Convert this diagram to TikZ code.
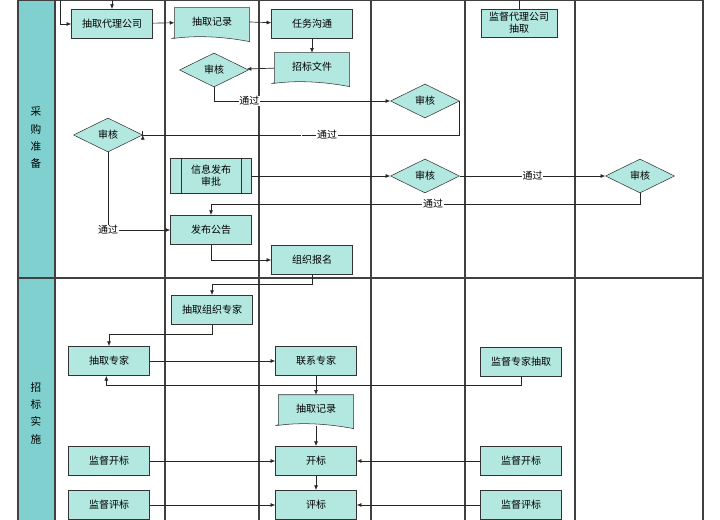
\documentclass[tikz,border=0pt]{standalone}
\usepackage{fontspec}
\setmainfont{Noto Sans CJK SC}
\usetikzlibrary{shapes.geometric,arrows.meta}
\definecolor{boxfill}{HTML}{B3E8E0}
\definecolor{lanefill}{HTML}{80D0D0}
\tikzset{
 box/.style={draw=black!80, fill=boxfill, minimum width=60.75pt, minimum height=22pt, inner sep=1pt, align=center, font=\fontsize{7.5}{9}\selectfont},
 doc/.style={minimum width=56pt, minimum height=21pt, inner sep=1pt, font=\fontsize{7.5}{9}\selectfont},
 dec/.style={diamond, draw=black!80, fill=boxfill, aspect=2, minimum width=51.75pt, minimum height=25.5pt, inner sep=0pt, font=\fontsize{7.5}{9}\selectfont},
 flow/.style={draw=black!85, line width=0.5pt, -{Latex[length=3.5pt,width=3pt]}},
 link/.style={draw=black!85, line width=0.5pt},
 lab/.style={fill=white, inner sep=0.5pt, font=\fontsize{7.5}{9}\selectfont},
 lane/.style={draw=black!75, line width=0.8pt}
}
\begin{document}
\begin{tikzpicture}[x=0.75pt,y=-0.75pt]
\useasboundingbox (0,0) rectangle (720,520);
% lanes
\fill[lanefill] (18,0) rectangle (55,520);
\foreach \x in {18,55,165,259,371,465,575,703}
 \draw[lane] (\x,0) -- (\x,520);
\draw[lane] (18,0) -- (703,0);
\draw[lane] (18,278) -- (703,278);
\node[align=center, font=\fontsize{8}{13}\selectfont] (stage1) at (36,138) {采\\购\\准\\备};
\node[align=center, font=\fontsize{8}{13}\selectfont] (stage2) at (36,413) {招\\标\\实\\施};

% nodes
\node[box] (agent) at (112,24) {抽取代理公司};
\node[doc] (rec1) at (212,22) {抽取记录};
\node[box] (talk) at (312,24) {任务沟通};
\node[doc] (file) at (312,67) {招标文件};
\node[dec] (chk1) at (214,70) {审核};
\node[dec] (chk2) at (425,101) {审核};
\node[dec] (chk3) at (108,135) {审核};
\node[box, minimum height=26pt, text width=45pt] (pub) at (211,176) {信息发布\\审批};
\node[dec] (chk4) at (425,176) {审核};
\node[dec] (chk5) at (640,176) {审核};
\node[box] (notice) at (211,230) {发布公告};
\node[box] (sign) at (312,260) {组织报名};
\node[box, minimum width=57pt, minimum height=21pt, inner sep=0pt] (super) at (519,23) {监督代理公司\\抽取};
\node[box] (orgexp) at (212,310) {抽取组织专家};
\node[box] (drawexp) at (109,361) {抽取专家};
\node[box] (contact) at (316,361) {联系专家};
\node[box] (supexp) at (521,362) {监督专家抽取};
\node[doc] (rec2) at (316,409) {抽取记录};
\node[box] (supopen1) at (109,461) {监督开标};
\node[box] (open) at (316,461) {开标};
\node[box] (supopen2) at (521,461) {监督开标};
\node[box] (supeval1) at (109,505) {监督评标};
\node[box] (eval) at (316,505) {评标};
\node[box] (supeval2) at (521,505) {监督评标};

% document shapes
\foreach \n in {rec1,file,rec2}{
 \begin{pgfonlayer}{main}
 \end{pgfonlayer}
 \draw[draw=black!80, fill=boxfill] (\n.north west) -- (\n.north east) -- ([yshift=-4pt]\n.south east)
  .. controls ([xshift=-14pt,yshift=4pt]\n.south) and ([xshift=-8pt,yshift=-4pt]\n.south west) .. ([yshift=-1pt]\n.south west) -- cycle;
 \node[doc] at (\n) {\ifx\n\empty\fi};
}
\node[doc] at (rec1) {抽取记录};
\node[doc] at (file) {招标文件};
\node[doc] at (rec2) {抽取记录};
\draw[black!80] ([xshift=8pt]pub.north west) -- ([xshift=8pt]pub.south west)
 ([xshift=-8pt]pub.north east) -- ([xshift=-8pt]pub.south east);

% connectors
\coordinate (top1) at (112,0);
\coordinate (top2) at (60,0);
\coordinate (top3) at (519,0);
\draw[flow] (top1) -- (agent);
\draw[flow] (top2) |- (agent);
\draw[link] (super) -- (top3);
\draw[flow] (agent) -- (rec1);
\draw[flow] (rec1.east) -- (talk);
\draw[flow] (talk) -- (file);
\draw[flow] (file) -- (chk1);
\draw[flow] (chk1.south) |- node[lab, pos=0.6] {通过} (chk2.west);
\draw[flow] (chk2.east) -- ++(0,34) -| node[lab, pos=0.25] {} (chk3.east) ;
\node[lab] (pass2) at (327,135) {通过};
\draw[flow] (chk3.south) |- node[lab, pos=0.5] (pass3) {通过} (notice.west);
\draw[flow] (pub.east) -- (chk4.west);
\draw[flow] (chk4.east) -- node[lab] {通过} (chk5.west);
\draw[flow] (chk5.south) -- ++(0,11) -| (notice.north);
\node[lab] (pass5) at (433,204) {通过};
\draw[flow] (notice.south) |- (sign.west);
\draw[flow] (sign.south) -- ++(0,9) -| (orgexp.north);
\draw[flow] (orgexp.south) -- ++(0,9) -| (drawexp.north);
\draw[flow] (drawexp) -- (contact);
\draw[flow] (contact) -- (rec2);
\draw[flow] (supexp.south) -- ++(0,8) -| ([xshift=-2pt]drawexp.south);
\draw[flow] ([yshift=-2pt]rec2.south) -- (open);
\draw[flow] (supopen1) -- (open);
\draw[flow] (supopen2) -- (open);
\draw[flow] (open) -- (eval);
\draw[flow] (supeval1) -- (eval);
\draw[flow] (supeval2) -- (eval);
\end{tikzpicture}
\end{document}
